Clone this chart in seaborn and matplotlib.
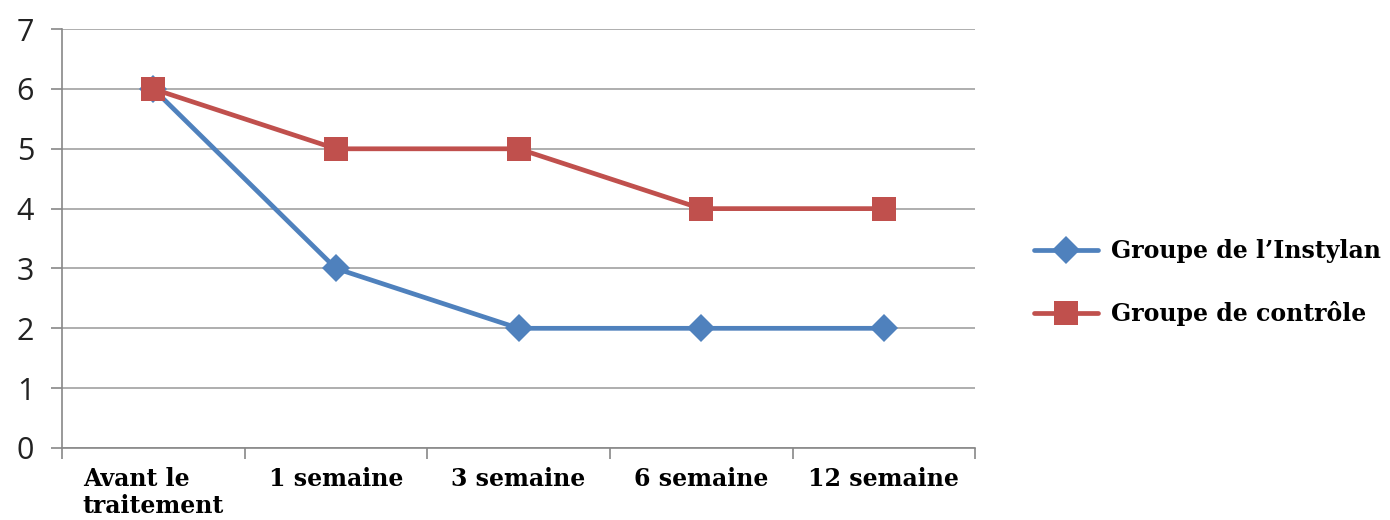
import pandas as pd
import numpy as np
import seaborn as sns
import matplotlib.pyplot as plt

periods = ['Avant le\ntraitement', '1 semaine', '3 semaine', '6 semaine', '12 semaine']
instylan = [6, 3, 2, 2, 2]
controle = [6, 5, 5, 4, 4]
groups = ['Groupe de l\u2019Instylan', 'Groupe de contrôle']

if __name__ == '__main__':

    df = pd.DataFrame({
        'periode': periods * 2,
        'score': instylan + controle,
        'groupe': [groups[0]] * len(periods) + [groups[1]] * len(periods),
    })
    df['pos'] = list(range(len(periods))) * 2

    sns.set_style('white')
    fig = plt.figure(figsize=(13.9, 5.2), dpi=100)
    ax = fig.add_axes([0.0446, 0.1385, 0.657, 0.8055])

    palette = {groups[0]: '#4F81BD', groups[1]: '#C0504D'}
    markers = {groups[0]: 'D', groups[1]: 's'}
    sizes = {groups[0]: 14, groups[1]: 17}

    for g in groups:
        sub = df[df['groupe'] == g]
        sns.lineplot(data=sub, x='pos', y='score', color=palette[g], marker=markers[g],
                     markersize=sizes[g], markeredgewidth=0, linewidth=3.4,
                     label=g, ax=ax, sort=False)

    serif = {'family': 'DejaVu Serif', 'weight': 'bold', 'size': 17}

    ax.set_xlim(-0.5, len(periods) - 0.5)
    ax.set_ylim(0, 7)
    ax.set_yticks(range(0, 8))
    ax.set_xticks(np.arange(-0.5, len(periods), 1.0))
    ax.set_xticklabels([])
    ax.set_xticks(range(len(periods)), minor=True)
    ax.set_xticklabels(periods, minor=True, fontdict=serif, multialignment='left',
                       linespacing=1.15, color='black')
    ax.tick_params(axis='x', which='minor', length=0, pad=14, bottom=True)
    ax.tick_params(axis='x', which='major', length=8, width=1.2, color='#888888',
                   direction='out', bottom=True)
    ax.tick_params(axis='y', length=8, width=1.2, color='#888888', direction='out',
                   pad=12, labelsize=22, labelcolor='#222222', left=True)
    for lab in ax.get_yticklabels():
        lab.set_fontfamily('Open Sans')

    ax.yaxis.grid(True, color='#999999', linewidth=1.1)
    ax.xaxis.grid(False)
    for side in ['top', 'right']:
        ax.spines[side].set_visible(False)
    for side in ['left', 'bottom']:
        ax.spines[side].set_color('#888888')
        ax.spines[side].set_linewidth(1.2)
    ax.set_xlabel('')
    ax.set_ylabel('')

    leg = ax.legend(loc='center left', bbox_to_anchor=(1.059, 0.395), frameon=False,
                    handlelength=2.7, handletextpad=0.55, labelspacing=1.6,
                    borderpad=0.2, borderaxespad=0.0, prop=serif)
    for t in leg.get_texts():
        t.set_color('black')

    fig.savefig('out.png', dpi=100)
